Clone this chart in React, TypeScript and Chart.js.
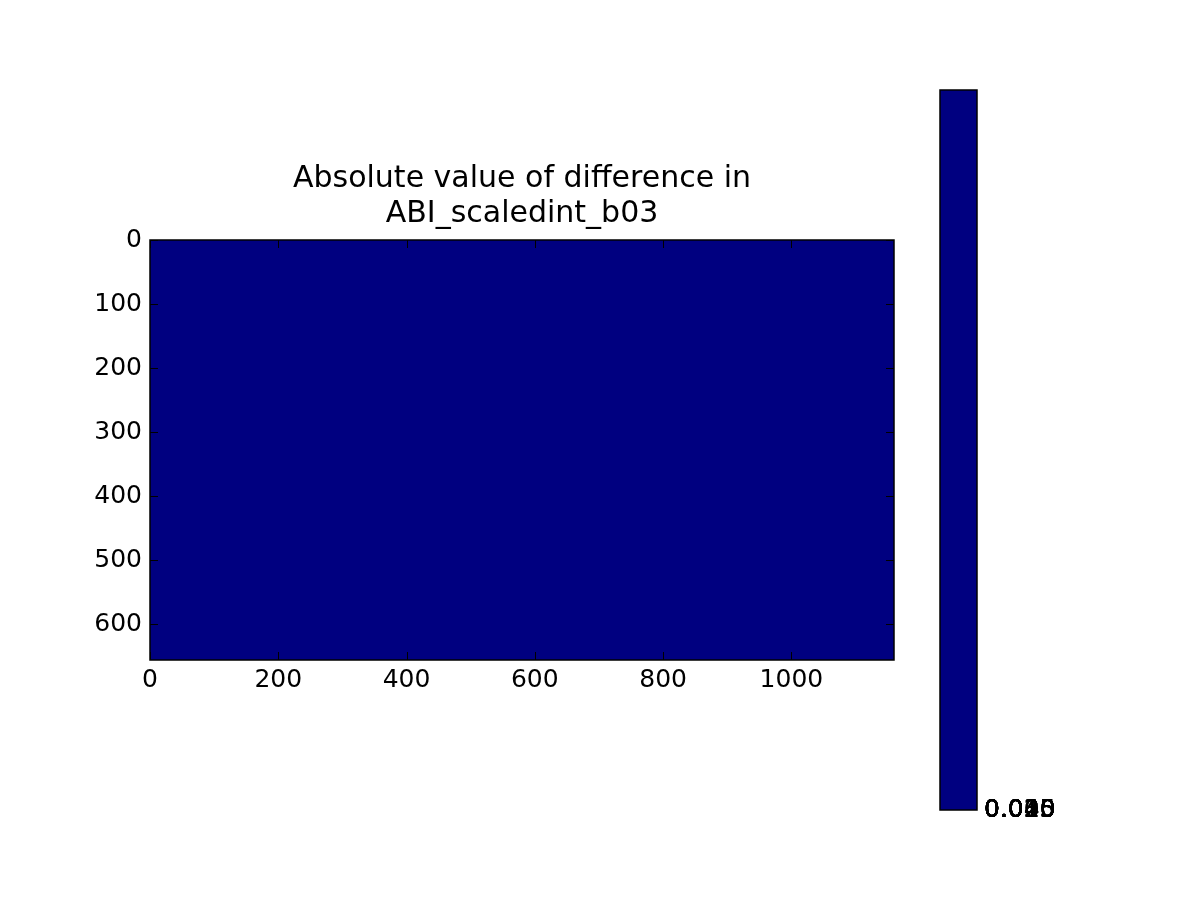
import React, { useEffect, useRef } from "react";
import { Chart, registerables } from "chart.js";

Chart.register(...registerables);

// ---- data ----
const titleLines = ["Absolute value of difference in", "ABI_scaledint_b03"];
const imageCols = 1160;
const imageRows = 656;
const imageValue = [0]; // every pixel of the difference image is 0
const xTickValues = [0, 200, 400, 600, 800, 1000];
const yTickValues = [0, 100, 200, 300, 400, 500, 600];
const colorbarLabels = ["0.000", "0.005", "0.010", "0.015", "0.020", "0.025", "0.030", "0.035", "0.040", "0.045"];
const colorbarValues = [1];

const NAVY = "#000080";
const FONT = "'DejaVu Sans', sans-serif";
const TICK_FONT_SIZE = 25;

const W = 1200;
const H = 900;
const AX = { left: 150, top: 240, right: 894, bottom: 660 };
const CB = { left: 940, top: 90, right: 977, bottom: 810 };

const inwardTicks = {
  id: "inwardTicks",
  afterDatasetsDraw(chart: any) {
    const { ctx, chartArea } = chart;
    const x = chart.scales.x;
    const y = chart.scales.y;
    ctx.save();
    ctx.strokeStyle = "#000";
    ctx.lineWidth = 1;
    const L = 8;
    ctx.beginPath();
    xTickValues.forEach((v) => {
      const px = Math.round(x.getPixelForValue(v)) + 0.5;
      ctx.moveTo(px, chartArea.bottom);
      ctx.lineTo(px, chartArea.bottom - L);
      ctx.moveTo(px, chartArea.top);
      ctx.lineTo(px, chartArea.top + L);
    });
    yTickValues.forEach((v) => {
      const py = Math.round(y.getPixelForValue(v)) + 0.5;
      ctx.moveTo(chartArea.left, py);
      ctx.lineTo(chartArea.left + L, py);
      ctx.moveTo(chartArea.right, py);
      ctx.lineTo(chartArea.right - L, py);
    });
    ctx.stroke();
    ctx.lineWidth = 1.5;
    ctx.strokeRect(chartArea.left, chartArea.top, chartArea.right - chartArea.left, chartArea.bottom - chartArea.top);
    ctx.restore();
  },
};

const imagePlugin = {
  id: "imagePlugin",
  beforeDatasetsDraw(chart: any) {
    const { ctx } = chart;
    const x = chart.scales.x;
    const y = chart.scales.y;
    const x0 = x.getPixelForValue(0);
    const x1 = x.getPixelForValue(imageCols);
    const y0 = y.getPixelForValue(0);
    const y1 = y.getPixelForValue(imageRows);
    ctx.save();
    ctx.fillStyle = imageValue[0] === 0 ? NAVY : NAVY;
    ctx.fillRect(Math.min(x0, x1), Math.min(y0, y1), Math.abs(x1 - x0), Math.abs(y1 - y0));
    ctx.restore();
  },
};

const titlePlugin = {
  id: "titlePlugin",
  afterDraw(chart: any) {
    const { ctx, chartArea } = chart;
    const cx = (chartArea.left + chartArea.right) / 2;
    ctx.save();
    ctx.fillStyle = "#000";
    ctx.font = `30px ${FONT}`;
    ctx.textAlign = "center";
    ctx.textBaseline = "alphabetic";
    ctx.fillText(titleLines[0], cx, 187);
    ctx.fillText(titleLines[1], cx, 222);
    ctx.restore();
  },
};

const cbBorder = {
  id: "cbBorder",
  afterDatasetsDraw(chart: any) {
    const { ctx, chartArea } = chart;
    ctx.save();
    ctx.strokeStyle = "#000";
    ctx.lineWidth = 1.5;
    ctx.strokeRect(chartArea.left, chartArea.top, chartArea.right - chartArea.left, chartArea.bottom - chartArea.top);
    ctx.restore();
  },
};

export default function App() {
  const mainRef = useRef<HTMLCanvasElement>(null);
  const cbRef = useRef<HTMLCanvasElement>(null);

  useEffect(() => {
    const main = new Chart(mainRef.current as HTMLCanvasElement, {
      type: "scatter",
      data: { datasets: [{ data: [], pointRadius: 0 }] },
      options: {
        animation: false,
        responsive: false,
        maintainAspectRatio: false,
        layout: { padding: { left: 0, top: AX.top, right: W - AX.right, bottom: 0 } },
        plugins: { legend: { display: false }, tooltip: { enabled: false }, title: { display: false } },
        scales: {
          x: {
            type: "linear",
            min: 0,
            max: imageCols,
            afterFit: (s: any) => {
              s.height = H - AX.bottom;
            },
            afterBuildTicks: (s: any) => {
              s.ticks = xTickValues.map((v) => ({ value: v }));
            },
            grid: { display: false, drawTicks: false },
            border: { display: false },
            ticks: {
              padding: 5,
              color: "#000",
              font: { family: FONT, size: TICK_FONT_SIZE },
              maxRotation: 0,
              autoSkip: false,
              callback: (v: any) => String(v),
            },
          },
          y: {
            type: "linear",
            min: 0,
            max: imageRows,
            reverse: true,
            afterFit: (s: any) => {
              s.width = AX.left;
            },
            afterBuildTicks: (s: any) => {
              s.ticks = yTickValues.map((v) => ({ value: v }));
            },
            grid: { display: false, drawTicks: false },
            border: { display: false },
            ticks: {
              padding: 8,
              color: "#000",
              font: { family: FONT, size: TICK_FONT_SIZE },
              autoSkip: false,
              callback: (v: any) => String(v),
            },
          },
        },
      },
      plugins: [imagePlugin, inwardTicks, titlePlugin],
    });

    const cb = new Chart(cbRef.current as HTMLCanvasElement, {
      type: "bar",
      data: {
        labels: ["cb"],
        datasets: [
          {
            data: colorbarValues,
            backgroundColor: NAVY,
            borderWidth: 0,
            barPercentage: 1,
            categoryPercentage: 1,
          },
        ],
      },
      options: {
        animation: false,
        responsive: false,
        maintainAspectRatio: false,
        layout: { padding: { left: CB.left, top: CB.top, right: 0, bottom: H - CB.bottom } },
        plugins: { legend: { display: false }, tooltip: { enabled: false } },
        scales: {
          x: { display: false },
          y: {
            position: "right",
            min: 0,
            max: 1,
            afterFit: (s: any) => {
              s.width = W - CB.right;
            },
            afterBuildTicks: (s: any) => {
              s.ticks = colorbarLabels.map(() => ({ value: 0 }));
            },
            grid: { display: false, drawTicks: false },
            border: { display: false },
            ticks: {
              padding: 7,
              color: "#000",
              autoSkip: false,
              font: { family: FONT, size: TICK_FONT_SIZE },
              callback: (_v: any, i: number) => colorbarLabels[i],
            },
          },
        },
      },
      plugins: [cbBorder],
    });

    return () => {
      main.destroy();
      cb.destroy();
    };
  }, []);

  return (
    <div style={{ position: "absolute", left: 0, top: 0, width: W, height: H, background: "#fff" }}>
      <canvas ref={mainRef} width={W} height={H} style={{ position: "absolute", left: 0, top: 0 }} />
      <canvas ref={cbRef} width={W} height={H} style={{ position: "absolute", left: 0, top: 0 }} />
    </div>
  );
}
